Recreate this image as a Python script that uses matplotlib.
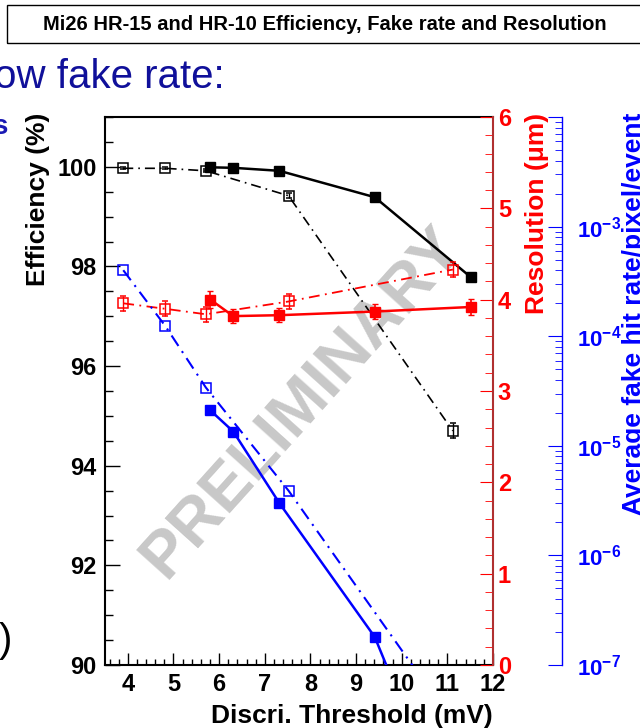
import numpy as np
import matplotlib
matplotlib.use("Agg")
import matplotlib.pyplot as plt
from matplotlib.patches import Rectangle
from matplotlib.ticker import MultipleLocator, FixedLocator, FixedFormatter, LogLocator, NullFormatter

plt.rcParams["font.family"] = ["Liberation Sans", "DejaVu Sans"]
plt.rcParams["font.weight"] = "bold"
plt.rcParams["mathtext.fontset"] = "custom"
plt.rcParams["mathtext.rm"] = "Liberation Sans:bold"
plt.rcParams["mathtext.bf"] = "Liberation Sans:bold"
plt.rcParams["mathtext.it"] = "Liberation Sans:bold:italic"

# discriminator thresholds (mV), filled-marker runs and open-marker runs
thr_filled = [5.81, 6.31, 7.32, 9.41, 11.52]
thr_open = [3.90, 4.82, 5.71, 7.52, 11.12]

# efficiency (%)
eff_filled = [99.99, 99.98, 99.92, 99.39, 97.78]
eff_filled_err = [0.02, 0.02, 0.03, 0.04, 0.05]
eff_open = [99.97, 99.97, 99.92, 99.42, 94.70]
eff_open_err = [0.02, 0.02, 0.03, 0.05, 0.15]

# spatial resolution (um)
res_filled = [4.00, 3.82, 3.83, 3.87, 3.92]
res_filled_err = [0.09, 0.08, 0.08, 0.08, 0.09]
res_open = [3.96, 3.90, 3.84, 3.98, 4.33]
res_open_err = [0.08, 0.08, 0.08, 0.08, 0.08]

# average fake hit rate / pixel / event
fake_filled = [2.1e-5, 1.35e-5, 3.0e-6, 1.8e-7, 1.3e-9]
fake_open = [4.0e-4, 1.24e-4, 3.4e-5, 3.9e-6, 3.0e-8]

fake_ticks = [1e-7, 1e-6, 1e-5, 1e-4, 1e-3, 1e-2]
fake_ticklabels = [r"$10^{-7}$", r"$10^{-6}$", r"$10^{-5}$", r"$10^{-4}$", r"$10^{-3}$", ""]

W, H = 640, 728
DASHDOT = (0, (6, 3, 1, 3))


def fx(px):
    return px / W


def fy(py):
    return 1 - py / H


fig = plt.figure(figsize=(W / 100, H / 100), dpi=100)

# slide header and the bits of slide text around the plot
fig.add_artist(Rectangle((fx(7), fy(43)), fx(650) - fx(7), fy(5) - fy(43),
                         transform=fig.transFigure, fill=False, lw=1.0, ec="black"))
fig.text(fx(325), fy(24), "Mi26 HR-15 and HR-10 Efficiency, Fake rate and Resolution",
         ha="center", va="center", fontsize=14.5)
fig.text(fx(-6), fy(88), "ow fake rate:", ha="left", va="baseline", fontsize=29,
         fontweight="normal", color="#10109a")
fig.text(fx(7), fy(134), "s", ha="right", va="baseline", fontsize=20, color="#1a1ab4")
fig.text(fx(12), fy(652), ")", ha="right", va="baseline", fontsize=29, fontweight="normal")

# efficiency frame
ax = fig.add_axes([fx(105), fy(665), (493 - 105) / W, (665 - 117) / H])
ax.set_xlim(3.5, 12)
ax.set_ylim(90, 101)
ax.xaxis.set_major_locator(MultipleLocator(1))
ax.xaxis.set_minor_locator(MultipleLocator(0.2))
ax.yaxis.set_major_locator(FixedLocator([90, 92, 94, 96, 98, 100]))
ax.yaxis.set_minor_locator(MultipleLocator(0.5))
ax.tick_params(which="both", direction="in", top=False, right=False, labelsize=17, width=1)
ax.tick_params(axis="x", which="major", length=8.6, pad=6)
ax.tick_params(axis="x", which="minor", length=4.3)
ax.tick_params(axis="y", which="major", length=11, pad=6)
ax.tick_params(axis="y", which="minor", length=5.8)
ax.spines["right"].set_visible(False)
for s in ("left", "top", "bottom"):
    ax.spines[s].set_linewidth(1.5)

ax.text(0.510, 0.480, "PRELIMINARY", transform=ax.transAxes, rotation=48,
        fontsize=47, color="#c8c8c8", ha="center", va="center", zorder=0.5)

ax.errorbar(thr_filled, eff_filled, yerr=eff_filled_err, fmt="-s", color="black",
            lw=1.8, ms=7, capsize=0, zorder=3)
ax.errorbar(thr_open, eff_open, yerr=eff_open_err, fmt="s", linestyle=DASHDOT,
            color="black", mfc="none", mec="black", ms=6.5, mew=1.1, lw=1.2,
            elinewidth=1.0, capsize=2, zorder=3)

# resolution scale on the frame's right edge
axr = ax.twinx()
axr.set_ylim(0, 6)
for s in ("left", "top", "bottom"):
    axr.spines[s].set_visible(False)
axr.spines["right"].set_color("#b03030")
axr.spines["right"].set_linewidth(1.5)
axr.yaxis.set_major_locator(MultipleLocator(1))
axr.yaxis.set_minor_locator(MultipleLocator(0.2))
axr.tick_params(axis="y", which="both", direction="in", colors="red", labelsize=17, pad=3.5)
axr.tick_params(axis="y", which="major", length=9.4)
axr.tick_params(axis="y", which="minor", length=5.8)

axr.errorbar(thr_filled, res_filled, yerr=res_filled_err, fmt="-s", color="red",
             lw=1.8, ms=7, elinewidth=1.2, capsize=2.2, zorder=3)
axr.errorbar(thr_open, res_open, yerr=res_open_err, fmt="s", linestyle=DASHDOT,
             color="red", mfc="none", mec="red", ms=6.5, mew=1.1, lw=1.3,
             elinewidth=1.0, capsize=2.2, zorder=3)

# fake-rate log scale, detached to the right of the frame
axb = ax.twinx()
axb.set_yscale("log")
axb.set_ylim(1e-7, 1e-2)
for s in ("left", "top", "bottom"):
    axb.spines[s].set_visible(False)
axb.spines["right"].set_position(("axes", (562 - 105) / (493 - 105)))
axb.spines["right"].set_color("blue")
axb.spines["right"].set_linewidth(1.0)
axb.yaxis.set_major_locator(FixedLocator(fake_ticks))
axb.yaxis.set_major_formatter(FixedFormatter(fake_ticklabels))
axb.yaxis.set_minor_locator(LogLocator(base=10, subs=np.arange(2, 10), numticks=20))
axb.yaxis.set_minor_formatter(NullFormatter())
axb.tick_params(axis="y", which="both", direction="in", colors="blue", labelsize=16, pad=11)
axb.tick_params(axis="y", which="major", length=10)
axb.tick_params(axis="y", which="minor", length=5)

axb.plot(thr_filled, fake_filled, "-s", color="blue", lw=1.8, ms=7, zorder=3)
axb.plot(thr_open, fake_open, "s", linestyle=DASHDOT, color="blue", mfc="none",
         mec="blue", ms=6.5, mew=1.1, lw=1.5, zorder=3)

# axis titles, ROOT style (aligned to the end of each axis)
fig.text(fx(493), fy(723), "Discri. Threshold (mV)", ha="right", va="baseline", fontsize=19)
fig.text(fx(38), fy(113), "Efficiency (%)", rotation=90, ha="center", va="top", fontsize=19)
fig.text(fx(537), fy(113), "Resolution (\u03bcm)", rotation=90, ha="center", va="top",
         fontsize=19, color="red")
fig.text(fx(622), fy(113), "Average fake hit rate/pixel/event", rotation=90, ha="left",
         va="top", fontsize=19, color="blue")

fig.savefig("out.png", dpi=100)
